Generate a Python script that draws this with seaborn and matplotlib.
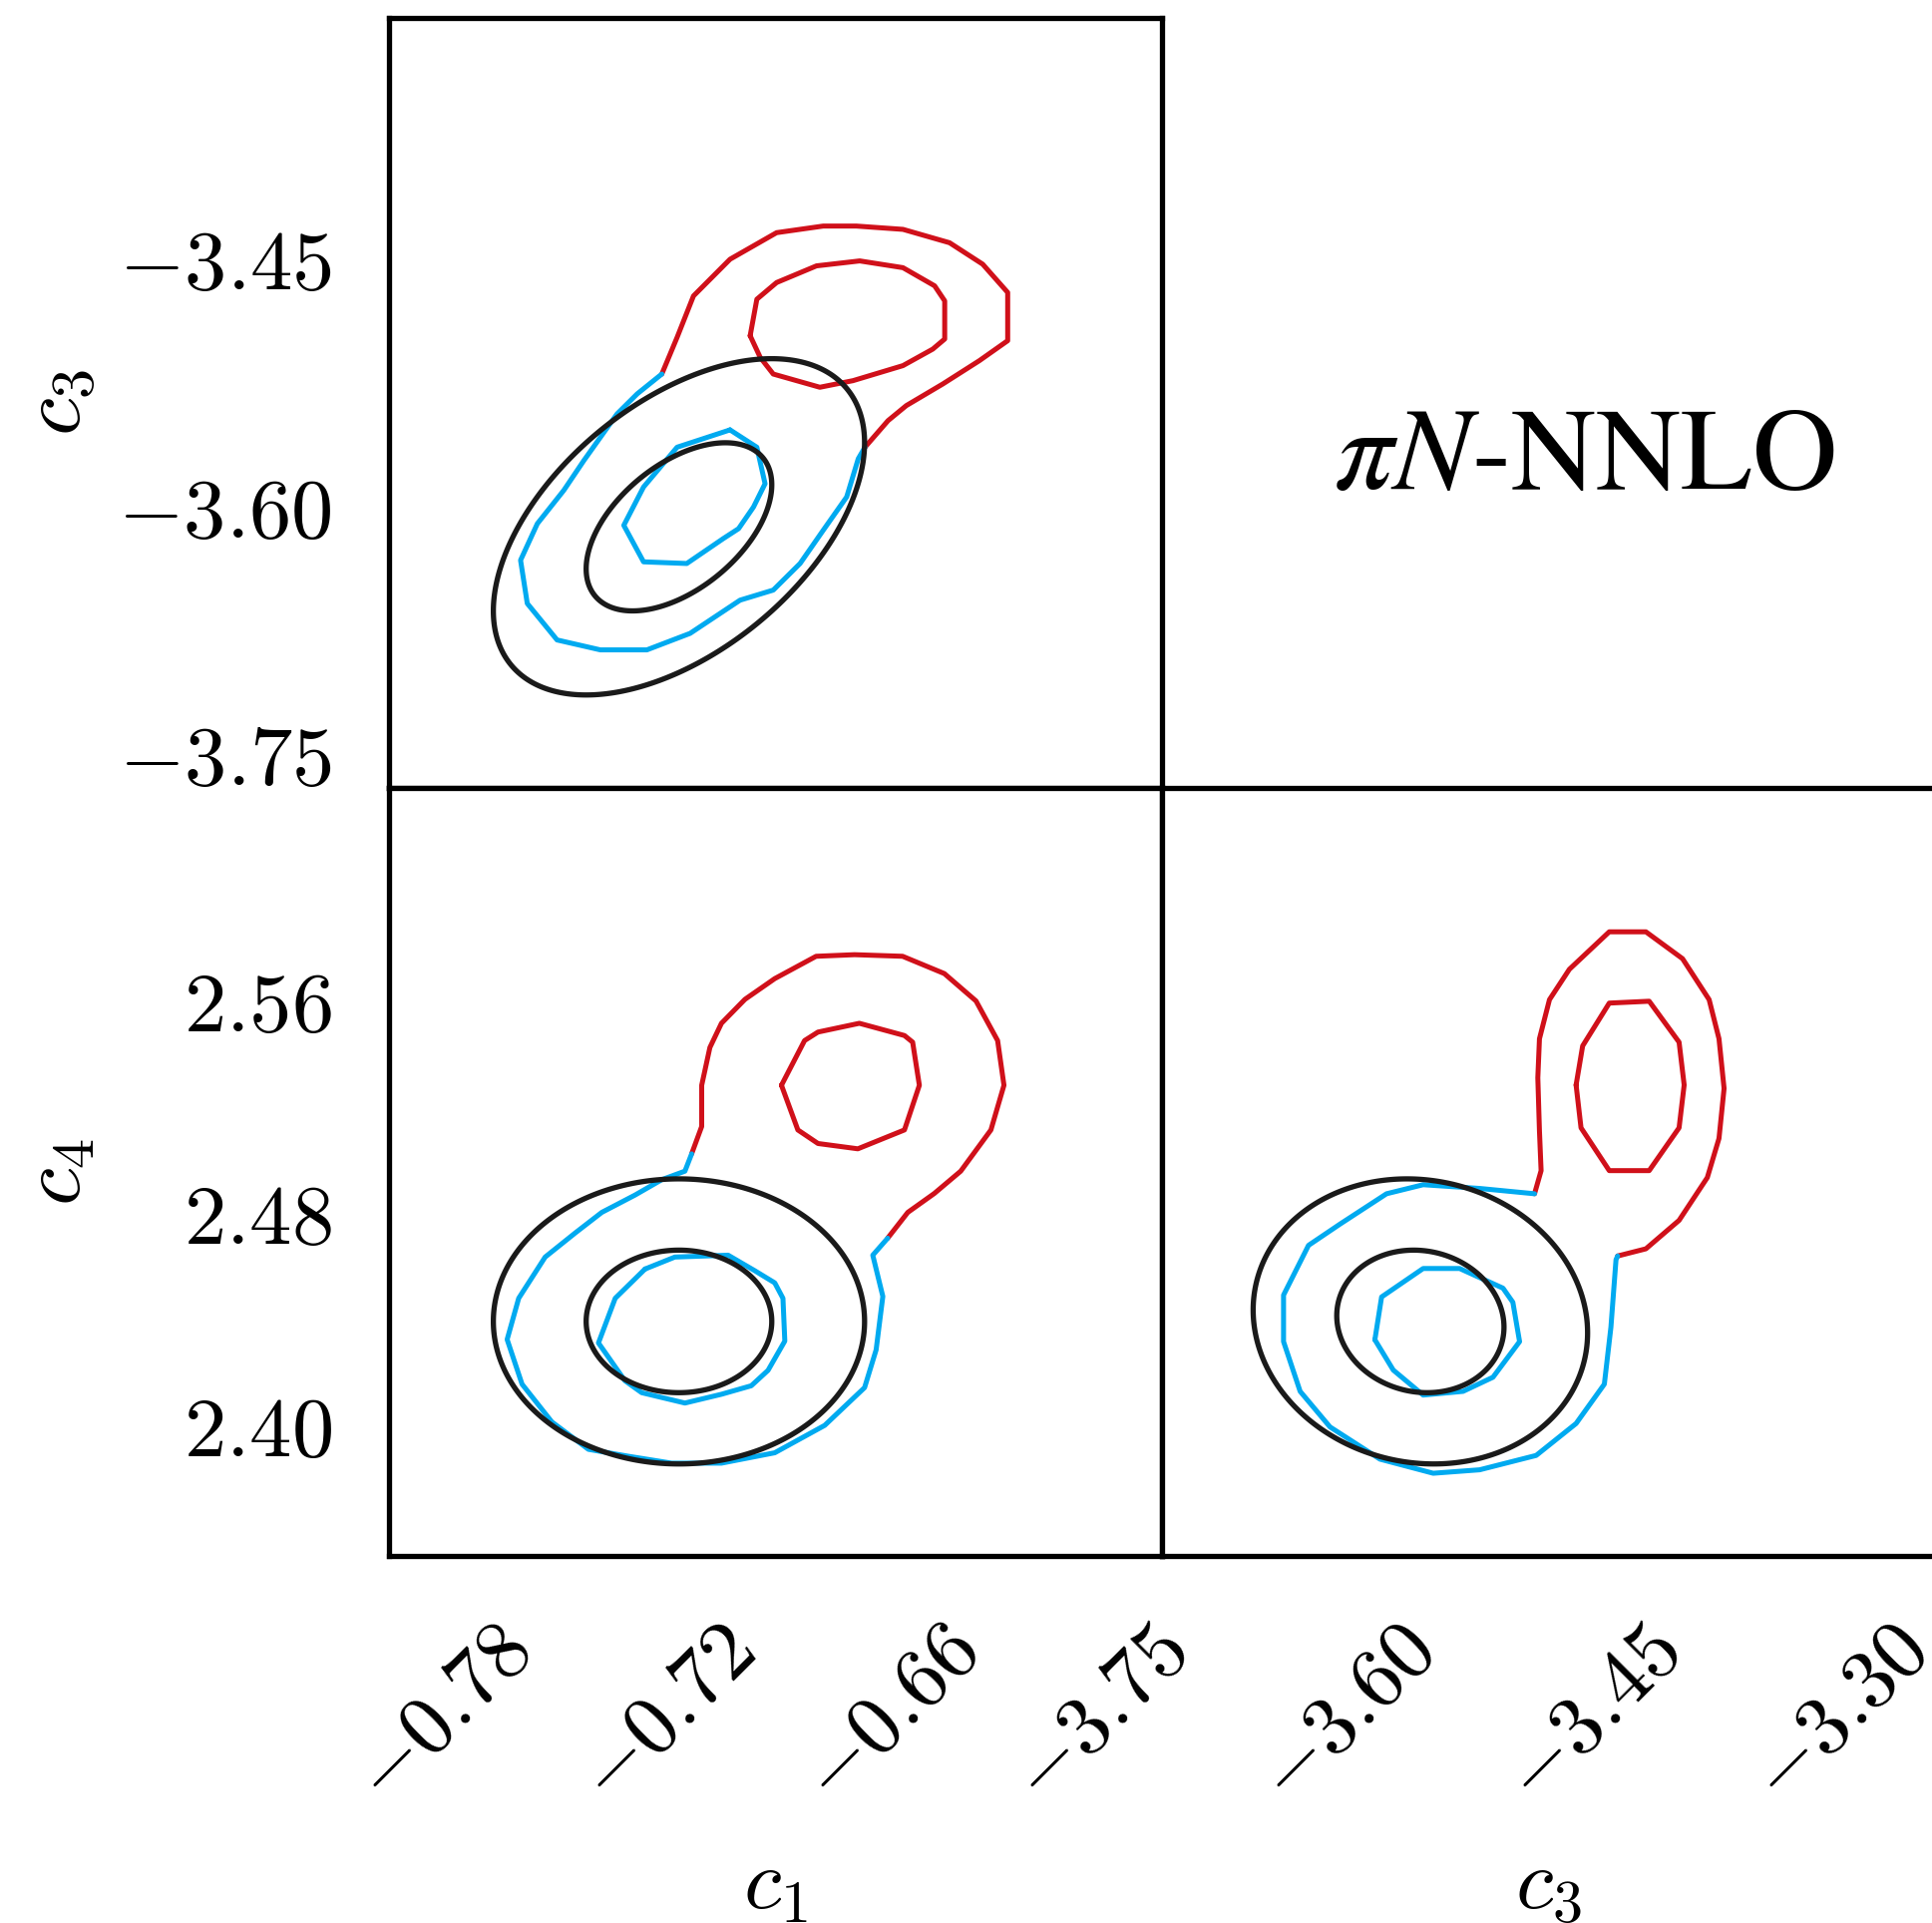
import numpy as np
import matplotlib
matplotlib.use("Agg")
import matplotlib.pyplot as plt
import matplotlib.transforms as mtransforms
import seaborn as sns

# ---------------- data ----------------
# Gaussian approximation (black ellipses): order c1, c3, c4
gauss_mean = [-0.7423, -3.6130, 2.4388]
gauss_sd = [0.0249, 0.0509, 0.0268]
gauss_rho = [[1.00, 0.50, 0.00],
             [0.50, 1.00, -0.08],
             [0.00, -0.08, 1.00]]
sigma_levels = [1.0, 2.0]

# posterior contours, panel c1-c3
c1c3_red_outer_x = [-0.7469, -0.7428, -0.7384, -0.7286, -0.7161, -0.7036, -0.6947, -0.6822, -0.6697,
                    -0.6608, -0.6541, -0.6541, -0.6617, -0.6715, -0.6813, -0.6862, -0.6924]
c1c3_red_outer_y = [-3.5205, -3.4983, -3.4732, -3.4510, -3.4349, -3.4309, -3.4309, -3.4329, -3.4410,
                    -3.4540, -3.4711, -3.5003, -3.5124, -3.5265, -3.5396, -3.5487, -3.5648]
c1c3_blue_outer_x = [-0.6924, -0.6942, -0.6973, -0.7036, -0.7098, -0.7170, -0.7259, -0.7393, -0.7509,
                     -0.7634, -0.7750, -0.7830, -0.7848, -0.7803, -0.7732, -0.7678, -0.7589, -0.7535, -0.7469]
c1c3_blue_outer_y = [-3.5648, -3.5718, -3.5949, -3.6151, -3.6352, -3.6513, -3.6574, -3.6775, -3.6875,
                     -3.6875, -3.6815, -3.6594, -3.6332, -3.6111, -3.5909, -3.5728, -3.5446, -3.5325, -3.5205]
c1c3_red_inner_x = [-0.7232, -0.7214, -0.7161, -0.7054, -0.6938, -0.6822, -0.6737, -0.6710, -0.6710,
                    -0.6742, -0.6822, -0.6956, -0.7045, -0.7170, -0.7205, -0.7232]
c1c3_red_inner_y = [-3.4973, -3.4752, -3.4651, -3.4550, -3.4520, -3.4561, -3.4671, -3.4762, -3.4993,
                    -3.5054, -3.5154, -3.5245, -3.5285, -3.5205, -3.5104, -3.4973]
c1c3_blue_inner_x = [-0.7286, -0.7214, -0.7192, -0.7223, -0.7263, -0.7304, -0.7402, -0.7518, -0.7571,
                     -0.7518, -0.7428, -0.7286]
c1c3_blue_inner_y = [-3.5543, -3.5648, -3.5869, -3.6010, -3.6141, -3.6201, -3.6352, -3.6342, -3.6121,
                     -3.5889, -3.5648, -3.5543]

# posterior contours, panel c1-c4
c1c4_red_outer_x = [-0.7389, -0.7362, -0.7362, -0.7340, -0.7309, -0.7246, -0.7166, -0.7055, -0.6952,
                    -0.6823, -0.6711, -0.6626, -0.6568, -0.6551, -0.6586, -0.6667, -0.6738, -0.6809, -0.6863]
c1c4_red_outer_y = [2.5018, 2.5121, 2.5276, 2.5418, 2.5509, 2.5599, 2.5677, 2.5761, 2.5767,
                    2.5761, 2.5696, 2.5593, 2.5444, 2.5276, 2.5108, 2.4953, 2.4869, 2.4798, 2.4701]
c1c4_blue_outer_x = [-0.6863, -0.6903, -0.6876, -0.6894, -0.6925, -0.7032, -0.7166, -0.7309, -0.7443,
                     -0.7559, -0.7666, -0.7764, -0.7844, -0.7884, -0.7853, -0.7782, -0.7701, -0.7630,
                     -0.7541, -0.7469, -0.7407, -0.7389]
c1c4_blue_outer_y = [2.4701, 2.4637, 2.4482, 2.4281, 2.4139, 2.3997, 2.3894, 2.3855, 2.3855,
                     2.3881, 2.3907, 2.4010, 2.4152, 2.4320, 2.4475, 2.4630, 2.4721, 2.4798,
                     2.4863, 2.4921, 2.4953, 2.5018]
c1c4_red_inner_x = [-0.7148, -0.7086, -0.7050, -0.6939, -0.6818, -0.6796, -0.6778, -0.6818, -0.6943,
                    -0.7050, -0.7104, -0.7148]
c1c4_red_inner_y = [2.5276, 2.5444, 2.5476, 2.5509, 2.5463, 2.5438, 2.5276, 2.5108, 2.5037,
                    2.5057, 2.5108, 2.5276]
c1c4_blue_inner_x = [-0.7514, -0.7434, -0.7291, -0.7220, -0.7166, -0.7144, -0.7139, -0.7184, -0.7229,
                     -0.7309, -0.7407, -0.7523, -0.7568, -0.7639, -0.7594, -0.7514]
c1c4_blue_inner_y = [2.4585, 2.4630, 2.4637, 2.4579, 2.4533, 2.4475, 2.4314, 2.4204, 2.4146,
                     2.4114, 2.4081, 2.4120, 2.4165, 2.4307, 2.4475, 2.4585]

# posterior contours, panel c3-c4
c3c4_red_outer_x = [-3.5435, -3.5395, -3.5405, -3.5415, -3.5405, -3.5344, -3.5223, -3.4980, -3.4757,
                    -3.4534, -3.4372, -3.4312, -3.4281, -3.4312, -3.4383, -3.4555, -3.4757, -3.4929]
c3c4_red_outer_y = [2.4868, 2.4955, 2.5103, 2.5304, 2.5451, 2.5598, 2.5712, 2.5853, 2.5853,
                    2.5752, 2.5598, 2.5451, 2.5264, 2.5076, 2.4929, 2.4768, 2.4661, 2.4634]
c3c4_blue_outer_x = [-3.4929, -3.4939, -3.4970, -3.5010, -3.5182, -3.5425, -3.5769, -3.6052, -3.6376,
                     -3.6680, -3.6862, -3.6963, -3.6963, -3.6811, -3.6619, -3.6336, -3.6113, -3.5769, -3.5435]
c3c4_blue_outer_y = [2.4634, 2.4620, 2.4366, 2.4152, 2.4004, 2.3884, 2.3830, 2.3817, 2.3870,
                     2.3991, 2.4125, 2.4312, 2.4487, 2.4674, 2.4754, 2.4868, 2.4902, 2.4888, 2.4868]
c3c4_red_inner_x = [-3.5182, -3.5142, -3.4980, -3.4737, -3.4555, -3.4524, -3.4555, -3.4737, -3.4980,
                    -3.5152, -3.5182]
c3c4_red_inner_y = [2.5277, 2.5424, 2.5585, 2.5592, 2.5438, 2.5277, 2.5116, 2.4955, 2.4955,
                    2.5116, 2.5277]
c3c4_blue_inner_x = [-3.6407, -3.6366, -3.6113, -3.5891, -3.5627, -3.5567, -3.5526, -3.5688, -3.5870,
                     -3.6113, -3.6295, -3.6407]
c3c4_blue_inner_y = [2.4319, 2.4480, 2.4587, 2.4587, 2.4513, 2.4460, 2.4312, 2.4178, 2.4125,
                     2.4111, 2.4205, 2.4319]

# axes ranges and ticks
c1_range = (-0.8201, -0.6127)
c3_range_y = (-3.7711, -3.3049)
c3_range_x = (-3.7703, -3.2997)
c4_range = (2.3506, 2.6394)
c1_ticks = [-0.78, -0.72, -0.66]
c3_ticks_y = [-3.75, -3.60, -3.45]
c3_ticks_x = [-3.75, -3.60, -3.45, -3.30]
c4_ticks = [2.40, 2.48, 2.56]

param_labels = [r"$c_1$", r"$c_3$", r"$c_4$"]
title_text = r"$\pi N$-NNLO"

# ---------------- style ----------------
RED = "#d0101a"
BLUE = "#00aaf0"
BLACK = "#1a1a1a"
LW_POST = 3.6
LW_GAUSS = 3.8
LW_AX = 3.8

sns.set_style("white")
plt.rcParams.update({
    "font.family": ["DejaVu Serif"],
    "mathtext.fontset": "cm",
    "axes.edgecolor": "black",
    "axes.linewidth": LW_AX,
    "text.color": "black",
    "axes.labelcolor": "black",
    "xtick.color": "black",
    "ytick.color": "black",
})

W, H, DPI = 1937, 1928, 100
fig = plt.figure(figsize=(W / DPI, H / DPI), dpi=DPI)
fig.patch.set_facecolor("white")

col_w = 775 / W
ax_tl = fig.add_axes([390 / W, 1 - 790 / H, col_w, 772 / H])
ax_bl = fig.add_axes([390 / W, 1 - 1560 / H, col_w, 770 / H])
ax_br = fig.add_axes([1165 / W, 1 - 1560 / H, col_w, 770 / H])


def draw_posterior(ax, parts):
    for xs, ys, col in parts:
        sns.lineplot(x=xs, y=ys, sort=False, estimator=None, color=col,
                     lw=LW_POST, ax=ax, legend=False)


def draw_gaussian(ax, i, j, xlim, ylim):
    mu = np.array([gauss_mean[i], gauss_mean[j]])
    cov = np.array([
        [gauss_sd[i] ** 2, gauss_rho[i][j] * gauss_sd[i] * gauss_sd[j]],
        [gauss_rho[i][j] * gauss_sd[i] * gauss_sd[j], gauss_sd[j] ** 2],
    ])
    inv = np.linalg.inv(cov)
    gx = np.linspace(xlim[0], xlim[1], 700)
    gy = np.linspace(ylim[0], ylim[1], 700)
    X, Y = np.meshgrid(gx, gy)
    dx, dy = X - mu[0], Y - mu[1]
    d2 = inv[0, 0] * dx * dx + 2 * inv[0, 1] * dx * dy + inv[1, 1] * dy * dy
    ax.contour(X, Y, d2, levels=[s ** 2 for s in sigma_levels],
               colors=BLACK, linewidths=LW_GAUSS)


# c1 - c3
draw_posterior(ax_tl, [
    (c1c3_red_outer_x, c1c3_red_outer_y, RED),
    (c1c3_blue_outer_x, c1c3_blue_outer_y, BLUE),
    (c1c3_red_inner_x, c1c3_red_inner_y, RED),
    (c1c3_blue_inner_x, c1c3_blue_inner_y, BLUE),
])
draw_gaussian(ax_tl, 0, 1, c1_range, c3_range_y)

# c1 - c4
draw_posterior(ax_bl, [
    (c1c4_red_outer_x, c1c4_red_outer_y, RED),
    (c1c4_blue_outer_x, c1c4_blue_outer_y, BLUE),
    (c1c4_red_inner_x, c1c4_red_inner_y, RED),
    (c1c4_blue_inner_x, c1c4_blue_inner_y, BLUE),
])
draw_gaussian(ax_bl, 0, 2, c1_range, c4_range)

# c3 - c4
draw_posterior(ax_br, [
    (c3c4_red_outer_x, c3c4_red_outer_y, RED),
    (c3c4_blue_outer_x, c3c4_blue_outer_y, BLUE),
    (c3c4_red_inner_x, c3c4_red_inner_y, RED),
    (c3c4_blue_inner_x, c3c4_blue_inner_y, BLUE),
])
draw_gaussian(ax_br, 1, 2, c3_range_x, c4_range)

ax_tl.set_xlim(c1_range)
ax_tl.set_ylim(c3_range_y)
ax_bl.set_xlim(c1_range)
ax_bl.set_ylim(c4_range)
ax_br.set_xlim(c3_range_x)
ax_br.set_ylim(c4_range)


def fmt(vals):
    return [r"$%.2f$" % v for v in vals]


TICK_FS = 61
tick_kw = dict(direction="out", length=20, width=LW_AX, labelsize=TICK_FS, color="black")

ax_tl.set_yticks(c3_ticks_y, labels=fmt(c3_ticks_y))
ax_tl.set_xticks([])
ax_tl.tick_params(axis="y", pad=21, **tick_kw)

ax_bl.set_xticks(c1_ticks, labels=fmt(c1_ticks))
ax_bl.set_yticks(c4_ticks, labels=fmt(c4_ticks))
ax_bl.tick_params(axis="y", pad=21, **tick_kw)
ax_bl.tick_params(axis="x", pad=19, **tick_kw)

ax_br.set_xticks(c3_ticks_x, labels=fmt(c3_ticks_x))
ax_br.set_yticks([])
ax_br.tick_params(axis="x", pad=19, **tick_kw)

# rotated x tick labels, nudged so their upper ends sit under the ticks
shift = mtransforms.ScaledTranslation(10 / DPI, 0, fig.dpi_scale_trans)
for ax in (ax_bl, ax_br):
    for lab in ax.get_xticklabels():
        lab.set_rotation(45)
        lab.set_ha("right")
        lab.set_transform(lab.get_transform() + shift)

for ax in (ax_tl, ax_bl, ax_br):
    ax.set_facecolor("white")
    for sp in ax.spines.values():
        sp.set_visible(True)
        sp.set_color("black")
        sp.set_linewidth(LW_AX)

LABEL_FS = 62
ax_tl.set_ylabel(param_labels[1], fontsize=LABEL_FS, rotation=90, ha="center", va="center")
ax_tl.yaxis.set_label_coords(-0.4297, 0.5)
ax_bl.set_ylabel(param_labels[2], fontsize=LABEL_FS, rotation=90, ha="center", va="center")
ax_bl.yaxis.set_label_coords(-0.4297, 0.5)
ax_bl.set_xlabel(param_labels[0], fontsize=LABEL_FS, ha="center", va="center")
ax_bl.xaxis.set_label_coords(0.5, -0.428)
ax_br.set_xlabel(param_labels[1], fontsize=LABEL_FS, ha="center", va="center")
ax_br.xaxis.set_label_coords(0.5, -0.428)

fig.text(1589 / W, 1 - 490 / H, title_text, fontsize=85, family="STIXGeneral",
         math_fontfamily="stix", ha="center", va="baseline", color="black")

fig.savefig("out.png", dpi=DPI, facecolor="white")
